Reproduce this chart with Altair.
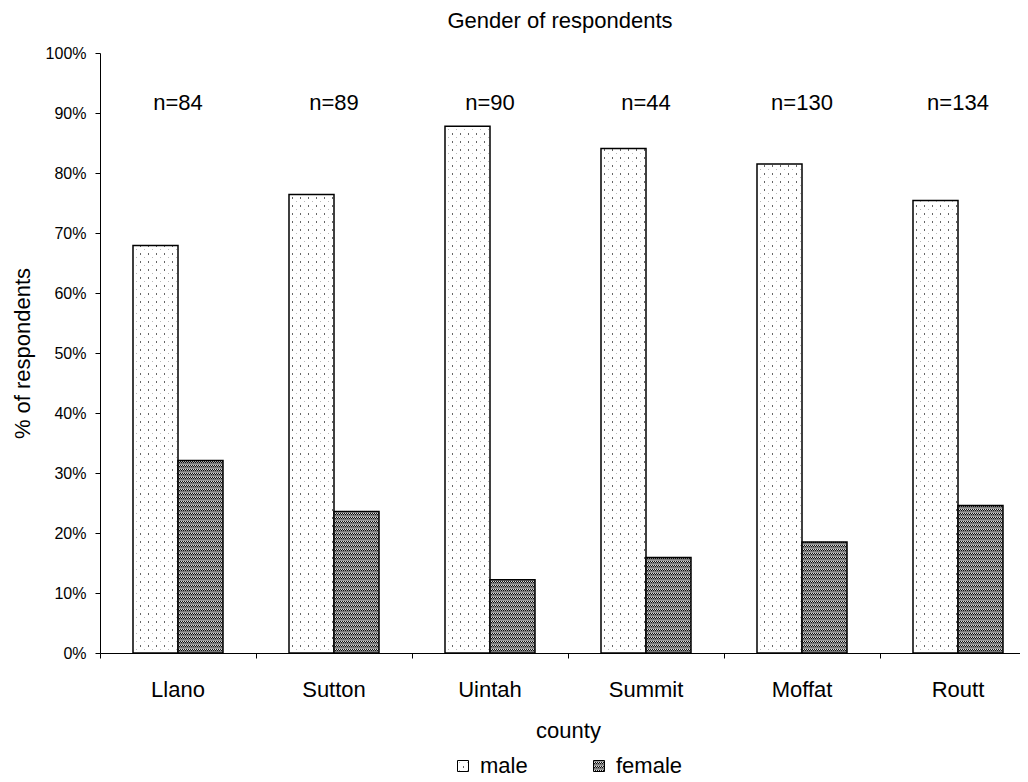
import altair as alt
import pandas as pd

counties = ["Llano", "Sutton", "Uintah", "Summit", "Moffat", "Routt"]
n_resp = [84, 89, 90, 44, 130, 134]
male_pct = [67.9, 76.4, 87.8, 84.1, 81.5, 75.4]
female_pct = [32.1, 23.6, 12.2, 15.9, 18.5, 24.6]
genders = ["male", "female"]

rows = []
for c, m, f in zip(counties, male_pct, female_pct):
    rows.append({"county": c, "gender": "male", "pct": m / 100})
    rows.append({"county": c, "gender": "female", "pct": f / 100})
df = pd.DataFrame(rows)
df_n = pd.DataFrame({"county": counties, "label": [f"n={v}" for v in n_resp]})

FONT = "Liberation Sans"

xscale = alt.Scale(domain=counties, range=[0, 936], paddingInner=0, paddingOuter=0)

bars = alt.Chart(df).mark_bar(stroke="black", strokeWidth=1.5).encode(
    x=alt.X("county:N", scale=xscale, sort=counties,
            axis=alt.Axis(title="county", labelAngle=0, bandPosition=0,
                          labelFontSize=22, titleFontSize=22, titleFontWeight="normal",
                          labelPadding=21, titlePadding=20, tickSize=5,
                          domainColor="black", tickColor="black", labelColor="black",
                          titleColor="black", labelFont=FONT, titleFont=FONT)),
    xOffset=alt.XOffset("gender:N", sort=genders,
                        scale=alt.Scale(domain=genders, paddingInner=0, paddingOuter=0.7333)),
    y=alt.Y("pct:Q", scale=alt.Scale(domain=[0, 1], nice=False),
            axis=alt.Axis(title="% of respondents", format=".0%", values=[i / 10 for i in range(11)],
                          grid=False, labelFontSize=16, titleFontSize=22, titleFontWeight="normal",
                          labelPadding=9, titlePadding=11, tickSize=5,
                          domainColor="black", tickColor="black", labelColor="black",
                          titleColor="black", labelFont=FONT, titleFont=FONT)),
    fill=alt.Fill("gender:N", sort=genders,
                  scale=alt.Scale(domain=genders, range=["url(#pat-male)", "url(#pat-female)"]),
                  legend=alt.Legend(title=None, orient="none", direction="horizontal",
                                    legendX=352, legendY=702, symbolType="square",
                                    symbolSize=121, symbolStrokeColor="black",
                                    symbolStrokeWidth=1, symbolOpacity=1,
                                    labelFontSize=22, labelFont=FONT, labelColor="black",
                                    labelOffset=6, columnPadding=60, padding=0)),
)

labels = alt.Chart(df_n).mark_text(fontSize=22, font=FONT, color="black",
                                   baseline="alphabetic", align="center").encode(
    x=alt.X("county:N", scale=xscale, sort=counties),
    y=alt.datum(0.905),
    text="label:N",
)

chart = alt.layer(bars, labels).properties(
    width=920, height=600,
    autosize=alt.AutoSizeParams(type="none"),
    padding={"left": 92, "top": 45, "right": 0, "bottom": 129},
    title=alt.TitleParams("Gender of respondents", fontSize=22, font=FONT,
                          fontWeight="normal", color="black", offset=12, anchor="middle"),
).configure_view(stroke=None).configure_axis(labelFont=FONT, titleFont=FONT)

chart.save("out.html", embed_options={"renderer": "svg", "actions": False})

defs = """
<svg width="0" height="0" style="position:absolute;left:0;top:0">
<defs>
<pattern id="pat-male" width="8" height="8" patternUnits="userSpaceOnUse">
<rect width="8" height="8" fill="#ffffff"/>
<rect x="0" y="0" width="1" height="2" fill="#666666"/>
<rect x="4" y="4" width="1" height="1" fill="#b8b8b8"/>
</pattern>
<pattern id="pat-female" width="4" height="4" patternUnits="userSpaceOnUse">
<rect width="4" height="4" fill="#9a9a9a"/>
<rect x="0" y="0" width="1" height="1" fill="#111111"/>
<rect x="2" y="0" width="1" height="1" fill="#111111"/>
<rect x="1" y="1" width="1" height="1" fill="#111111"/>
<rect x="3" y="1" width="1" height="1" fill="#111111"/>
<rect x="1" y="0" width="1" height="1" fill="#e0e0e0"/>
<rect x="3" y="0" width="1" height="1" fill="#e0e0e0"/>
<rect x="0" y="2" width="4" height="1" fill="#7a7a7a"/>
</pattern>
</defs>
</svg>
"""
with open("out.html", "r", encoding="utf-8") as fh:
    html = fh.read()
html = html.replace("<body>", "<body>" + defs, 1)
with open("out.html", "w", encoding="utf-8") as fh:
    fh.write(html)
